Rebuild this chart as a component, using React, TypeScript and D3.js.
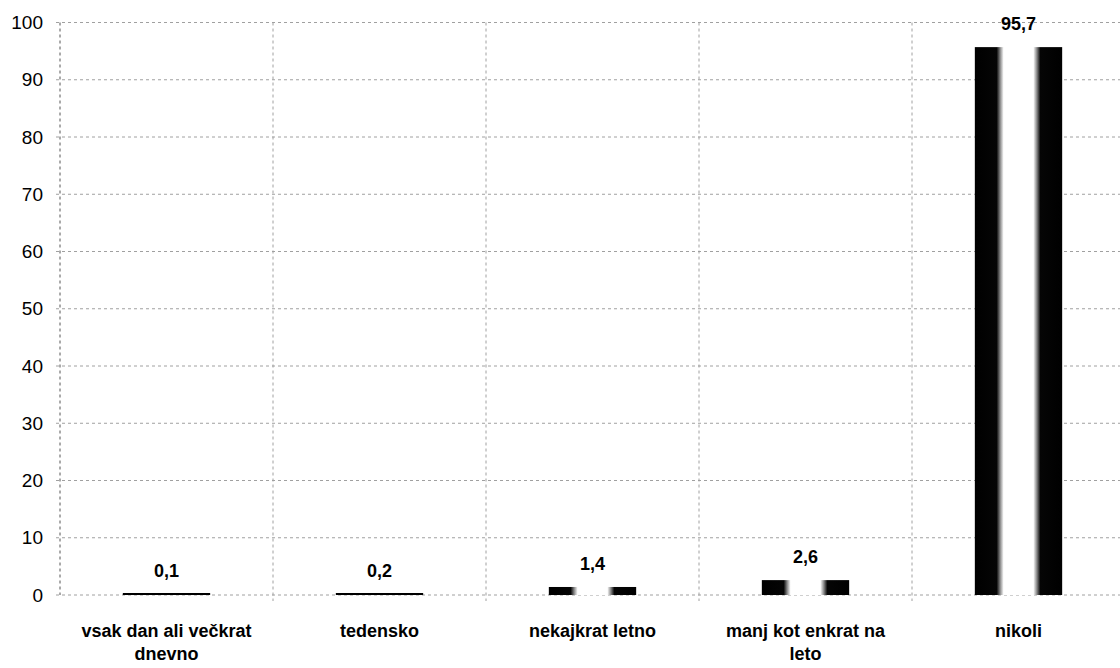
import React from "react";
import * as d3 from "d3";

const categories = [
  ["vsak dan ali večkrat", "dnevno"],
  ["tedensko"],
  ["nekajkrat letno"],
  ["manj kot enkrat na", "leto"],
  ["nikoli"],
];
const values = [0.1, 0.2, 1.4, 2.6, 95.7];
const valueLabels = ["0,1", "0,2", "1,4", "2,6", "95,7"];
const yTicks = [0, 10, 20, 30, 40, 50, 60, 70, 80, 90, 100];

export default function App() {
  const W = 1120, H = 668;
  const left = 60, top = 22.5, bottom = 595;
  const plotW = 213 * 5;
  const x = d3.scaleBand<number>().domain(d3.range(5)).range([left, left + plotW]).paddingInner(0).paddingOuter(0);
  const y = d3.scaleLinear().domain([0, 100]).range([bottom, top]);
  const bw = x.bandwidth() * 0.41;
  const font = "Liberation Sans, Arial, sans-serif";
  return (
    <svg width={W} height={H} style={{ position: "absolute", left: 0, top: 0, background: "#fff" }}>
      <defs>
        <linearGradient id="cyl" x1="0" x2="1" y1="0" y2="0">
          <stop offset="0" stopColor="#000" />
          <stop offset="0.25" stopColor="#050505" />
          <stop offset="0.29" stopColor="#888" />
          <stop offset="0.33" stopColor="#fff" />
          <stop offset="0.67" stopColor="#fff" />
          <stop offset="0.71" stopColor="#888" />
          <stop offset="0.75" stopColor="#050505" />
          <stop offset="1" stopColor="#000" />
        </linearGradient>
      </defs>
      {yTicks.map((t) => (
        <g key={t}>
          <line x1={left - 4} x2={W} y1={y(t)} y2={y(t)} stroke="#a0a0a0" strokeWidth={1} strokeDasharray="3,3" />
          <text x={left - 17} y={y(t)} dy="0.35em" textAnchor="end" fontFamily={font} fontSize={19} fill="#000">{t}</text>
        </g>
      ))}
      {d3.range(1, 5).map((i) => (
        <line key={i} x1={x(i)!} x2={x(i)!} y1={top} y2={bottom + 6} stroke="#a0a0a0" strokeDasharray="3,3" />
      ))}
      <line x1={left} x2={left} y1={top} y2={bottom} stroke="#555" strokeDasharray="3,3" />
      {values.map((v, i) => {
        const cx = x(i)! + x.bandwidth() / 2;
        const h = Math.max(bottom - y(v), 2);
        return (
          <g key={i}>
            <rect x={cx - bw / 2} y={bottom - h} width={bw} height={h} fill={v < 1 ? "#000" : "url(#cyl)"} />
            <text x={cx} y={y(v) - 17} textAnchor="middle" fontFamily={font} fontSize={18} fontWeight="bold" fill="#000">{valueLabels[i]}</text>
            {categories[i].map((ln, j) => (
              <text key={j} x={cx} y={637 + j * 23} textAnchor="middle" fontFamily={font} fontSize={18} fontWeight="bold" fill="#000">{ln}</text>
            ))}
          </g>
        );
      })}
    </svg>
  );
}
